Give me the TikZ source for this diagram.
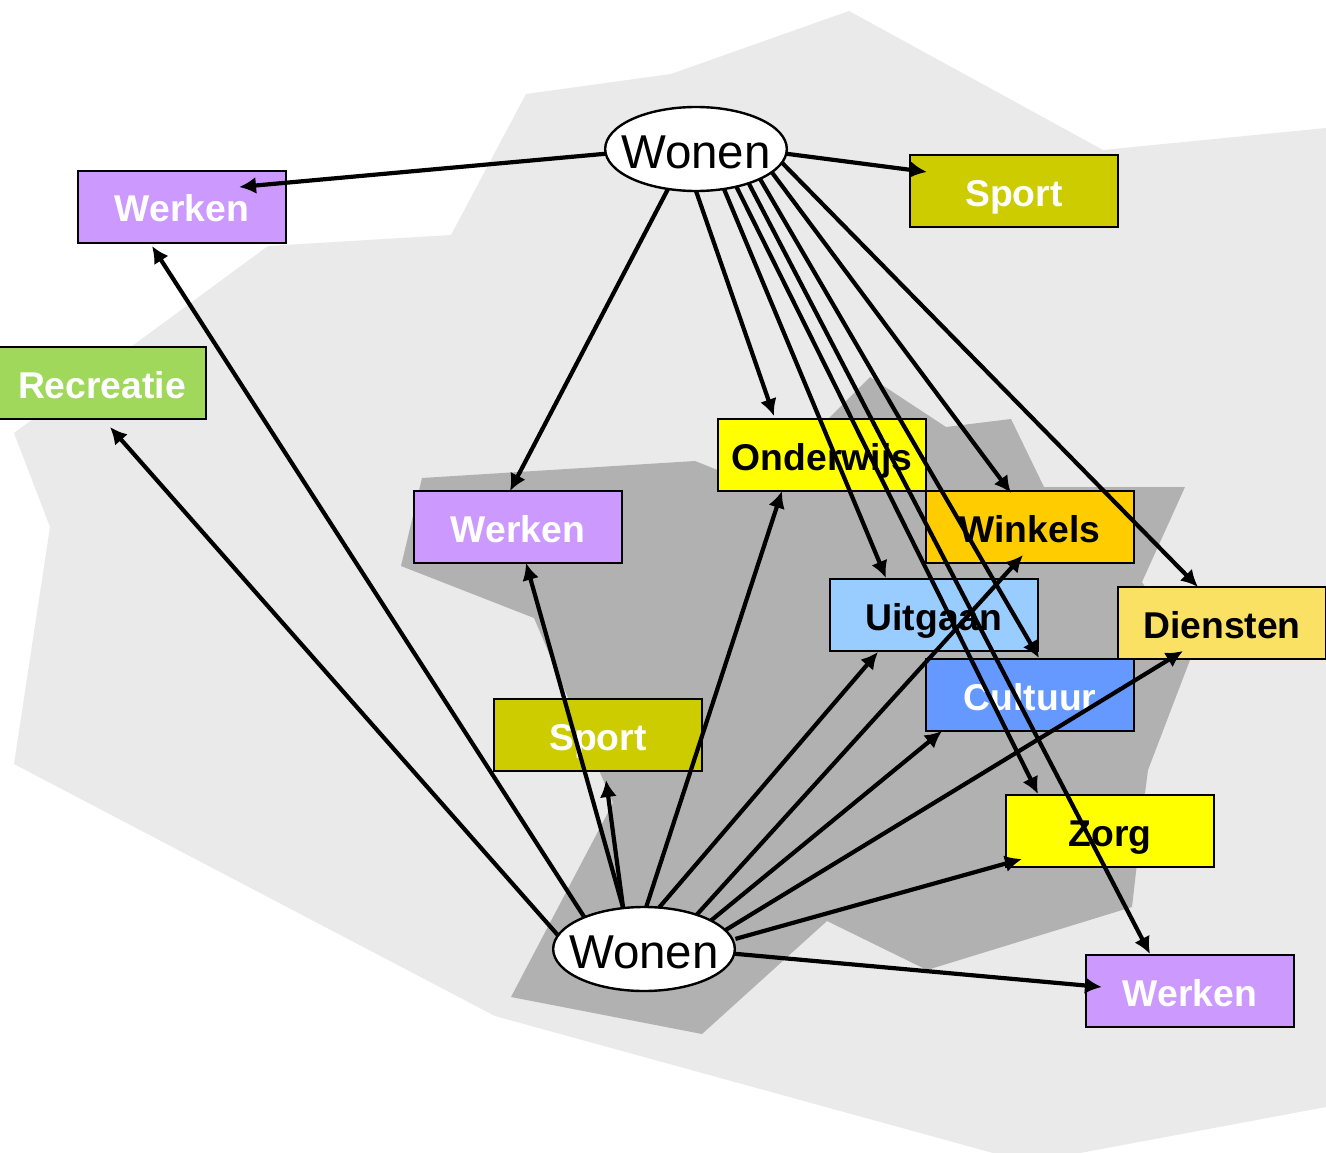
\documentclass[tikz,border=0pt]{standalone}
\usepackage{fontspec}
\setmainfont{Liberation Sans}
\usetikzlibrary{shapes.geometric,arrows.meta}
\definecolor{lightbg}{HTML}{EAEAEA}
\definecolor{darkbg}{HTML}{B1B1B1}
\definecolor{cwerken}{HTML}{CC99FF}
\definecolor{csport}{HTML}{CCCC00}
\definecolor{crecr}{HTML}{A0D85C}
\definecolor{cond}{HTML}{FFFF00}
\definecolor{cwink}{HTML}{FFCC00}
\definecolor{cuit}{HTML}{99CCFF}
\definecolor{cdien}{HTML}{FAE164}
\definecolor{ccult}{HTML}{6699FF}
\tikzset{
  box/.style={draw=black,line width=2.6pt,rectangle,minimum width=208pt,minimum height=72pt,inner sep=0pt,outer sep=0pt,
    font=\fontsize{37.3}{40}\selectfont\bfseries,text height=32pt,text depth=2pt,align=center},
  whitebox/.style={box,text=white},
  blackbox/.style={box,text=black},
  wonen/.style={draw=black,line width=2.4pt,ellipse,fill=white,minimum width=180pt,minimum height=84pt,inner xsep=-10.6pt,inner ysep=0pt,outer sep=0pt,
    font=\fontsize{47.5}{50}\selectfont,text height=38pt,text depth=0pt},
  flow/.style={line width=4.2pt,-{Latex[length=17pt,width=17pt]}}
}
\begin{document}
\begin{tikzpicture}[x=1pt,y=-1pt]
\useasboundingbox (0,0) rectangle (1326,1153);
\fill[white] (0,0) rectangle (1326,1153);
\fill[lightbg] (849,11) -- (1103,150) -- (1326,128) -- (1326,1107) -- (1080,1153) -- (993,1153) -- (495,1016) -- (14,764) -- (50,527) -- (14,433) -- (268,246) -- (451,235) -- (526,94) -- (671,74) -- cycle;
\fill[darkbg] (422,478) -- (695,461) -- (760,487) -- (870,377) -- (946,427) -- (1011,419) -- (1044,487) -- (1185,487) -- (1142,582) -- (1190,660) -- (1148,770) -- (1145,793) -- (1132,907) -- (927,970) -- (827,921) -- (702,1034) -- (511,997) -- (613,803) -- (534,618) -- (401,566) -- cycle;

\node[whitebox,fill=cwerken] (werkenA) at (182,207) {Werken};
\node[whitebox,fill=csport] (sportA) at (1014,191) {Sport};
\node[whitebox,fill=crecr] (recr) at (102,383) {Recreatie};
\node[whitebox,fill=cwerken] (werkenB) at (518,527) {Werken};
\node[blackbox,fill=cond] (ond) at (822,455) {Onderwijs};
\node[blackbox,fill=cwink] (wink) at (1030,527) {Winkels};
\node[blackbox,fill=cuit] (uit) at (934,615) {Uitgaan};
\node[whitebox,fill=ccult] (cult) at (1030,695) {Cultuur};
\node[blackbox,fill=cdien] (dien) at (1222,623) {Diensten};
\node[whitebox,fill=csport] (sportB) at (598,735) {Sport};
\node[blackbox,fill=cond] (zorg) at (1110,831) {Zorg};
\node[whitebox,fill=cwerken] (werkenC) at (1190,991) {Werken};

\node[wonen] (wt) at (696,149) {Wonen};
\node[wonen] (wb) at (644,949) {Wonen};

% arrow targets inside or beside the boxes
\coordinate (tWerkenA) at (239,187);
\coordinate (tSportA) at (927,172);
\coordinate (tWerkenB) at (510,491);
\coordinate (tOnd) at (774,416);
\coordinate (tUit) at (886,578);
\coordinate (tZorg) at (1038,794);
\coordinate (tWerkenC) at (1150,954);
\coordinate (tCult) at (1039,658);
\coordinate (tWink) at (1011,493);
\coordinate (tDien) at (1198,587);
\coordinate (bRecr) at (110,427);
\coordinate (bWerkenA) at (152,246);
\coordinate (bWerkenB) at (526,563);
\coordinate (bSport) at (606,780);
\coordinate (bOnd) at (782,491);
\coordinate (bUit) at (878,652);
\coordinate (bWink) at (1023,555);
\coordinate (bCult) at (942,731);
\coordinate (bDien) at (1183,651);
\coordinate (bZorg) at (1022,859);
\coordinate (bWerkenC) at (1102,987);

\draw[flow] (wt.183.8) -- (tWerkenA);
\draw[flow] (wt.-3.8) -- (tSportA);
\draw[flow] (wt.235.5) -- (tWerkenB);
\draw[flow] (wt.-90) -- (tOnd);
\draw[flow] (wt.-55.4) -- (tUit);
\draw[flow] (wt.-43) -- (tZorg);
\draw[flow] (wt.-33) -- (tWerkenC);
\draw[flow] (wt.-25.6) -- (tCult);
\draw[flow] (wt.-17.7) -- (tWink);
\draw[flow] (wt.-9.8) -- (tDien);

\draw[flow] (wb.171.9) -- (bRecr);
\draw[flow] (wb.152.9) -- (bWerkenA);
\draw[flow] (wb.117.4) -- (bWerkenB);
\draw[flow] (wb.117.4) -- (bSport);
\draw[flow] (wb.87.3) -- (bOnd);
\draw[flow] (wb.70.8) -- (bUit);
\draw[flow] (wb.33.3) -- (bWink);
\draw[flow] (wb.23) -- (bCult);
\draw[flow] (wb.13.6) -- (bDien);
\draw[flow,shorten <=3pt] (wb.6.7) -- (bZorg);
\draw[flow] (wb.-3.8) -- (bWerkenC);
\end{tikzpicture}
\end{document}
